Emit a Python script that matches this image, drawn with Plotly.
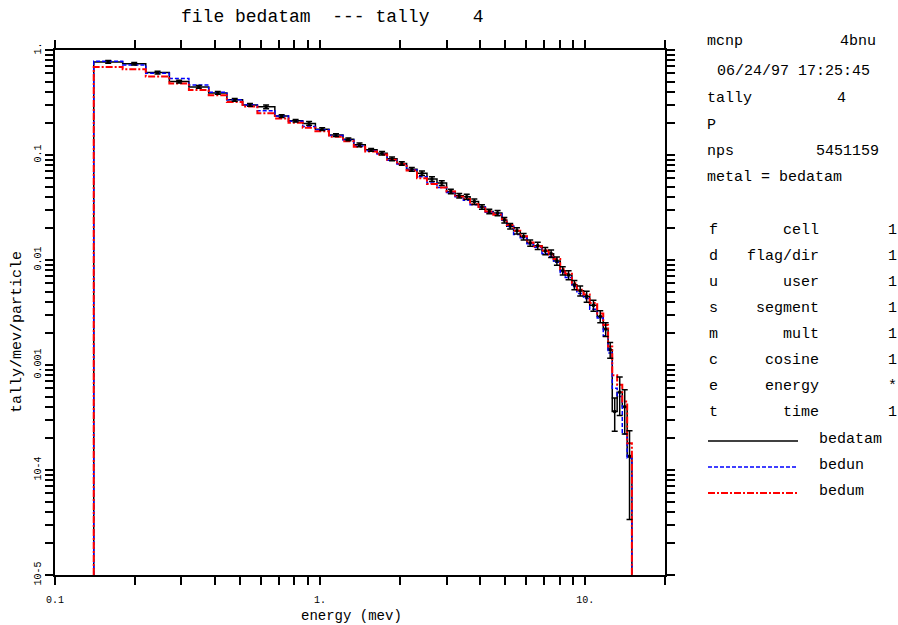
import numpy as np
import plotly.graph_objects as go

# ---------------- data ----------------
edges = [0.14, 0.18, 0.22, 0.27, 0.32, 0.38, 0.445, 0.51, 0.58, 0.675,
         0.76, 0.86, 0.96, 1.08, 1.22, 1.34, 1.48, 1.64, 1.79, 1.95,
         2.12, 2.32, 2.53, 2.76, 3.0, 3.23, 3.47, 3.68, 3.96, 4.2,
         4.5, 4.85, 5.06, 5.37, 5.69, 6.03, 6.38, 6.87, 7.28, 7.6,
         8.05, 8.41, 8.91, 9.3, 9.86, 10.4, 11.1, 11.7, 12.2, 12.65,
         13.2, 13.8, 14.4, 15.0]

bedatam = [0.77, 0.74, 0.61, 0.50, 0.445, 0.39, 0.335, 0.30, 0.288, 0.235,
           0.212, 0.20, 0.176, 0.155, 0.141, 0.125, 0.112, 0.104, 0.092, 0.083,
           0.073, 0.067, 0.059, 0.054, 0.045, 0.041, 0.040, 0.036, 0.032, 0.029,
           0.028, 0.024, 0.021, 0.019, 0.0167, 0.0145, 0.0137, 0.0122, 0.0115, 0.0098,
           0.0079, 0.0072, 0.0058, 0.0051, 0.0045, 0.0037, 0.0029, 0.0022, 0.0014,
           0.00036, 0.00055, 0.0004, 0.000135]

bedun = [0.78, 0.72, 0.60, 0.535, 0.465, 0.395, 0.335, 0.30, 0.264, 0.235,
         0.21, 0.187, 0.174, 0.153, 0.139, 0.122, 0.11, 0.102, 0.089, 0.082,
         0.072, 0.062, 0.054, 0.049, 0.044, 0.040, 0.037, 0.0335, 0.032, 0.0285,
         0.0275, 0.024, 0.021, 0.0175, 0.0163, 0.0143, 0.0132, 0.0115, 0.0108, 0.0095,
         0.0076, 0.0068, 0.0056, 0.0048, 0.0043, 0.0034, 0.0028, 0.0019, 0.0013,
         0.0006, 0.0005, 0.00022, 0.00013]

bedum = [0.69, 0.655, 0.56, 0.48, 0.415, 0.37, 0.32, 0.29, 0.25, 0.223,
         0.203, 0.182, 0.168, 0.149, 0.135, 0.12, 0.108, 0.101, 0.09, 0.082,
         0.071, 0.06, 0.053, 0.049, 0.045, 0.040, 0.038, 0.034, 0.032, 0.029,
         0.027, 0.0245, 0.0215, 0.019, 0.0168, 0.0147, 0.0135, 0.0123, 0.0113, 0.0102,
         0.0082, 0.0074, 0.006, 0.0052, 0.0047, 0.0039, 0.0031, 0.0024, 0.0015,
         0.0008, 0.00065, 0.00045, 0.00018]

bedatam_relerr = [0.03, 0.03, 0.03, 0.03, 0.03, 0.03, 0.03, 0.03, 0.04, 0.03,
                  0.03, 0.04, 0.03, 0.03, 0.03, 0.04, 0.03, 0.04, 0.04, 0.04,
                  0.04, 0.05, 0.05, 0.05, 0.05, 0.05, 0.06, 0.06, 0.05, 0.05,
                  0.06, 0.06, 0.06, 0.07, 0.07, 0.07, 0.08, 0.08, 0.08, 0.09,
                  0.09, 0.10, 0.10, 0.11, 0.12, 0.12, 0.13, 0.15, 0.17,
                  0.35, 0.40, 0.45, 0.75]

y_floor = 1e-5
x_tick_labels = {0.1: "0.1", 1: "1.", 10: "10."}
y_tick_labels = {1e-5: "10-5", 1e-4: "10-4", 1e-3: "0.001", 1e-2: "0.01", 1e-1: "0.1", 1: "1."}

title_text = "file bedatam  --- tally    4"
info_lines = [("mcnp", "4bnu"), ("06/24/97 17:25:45", None), ("tally", "4"),
              ("P", None), ("nps", "5451159"), ("metal = bedatam", None)]
param_rows = [("f", "cell", "1"), ("d", "flag/dir", "1"), ("u", "user", "1"),
              ("s", "segment", "1"), ("m", "mult", "1"), ("c", "cosine", "1"),
              ("e", "energy", "*"), ("t", "time", "1")]
series_names = ["bedatam", "bedun", "bedum"]

# ---------------- helpers ----------------
def step_xy(vals):
    xs = [edges[0]] + list(edges) + [edges[-1]]
    ys = [y_floor] + list(vals) + [vals[-1], y_floor]
    return xs, ys

FONT = "Liberation Mono"
L, R, T, B = 55, 233, 50, 50
W, H = 898, 625
pw, ph = W - L - R, H - T - B

def px(x):
    return (x - L) / pw

def py(y):
    return (H - B - y) / ph

styles = [dict(color="black", width=1.5, dash="solid"),
          dict(color="#0000ff", width=1.5, dash="4px,2px"),
          dict(color="#ff0000", width=2, dash="7px,2px,2px,2px")]

fig = go.Figure()
for name, vals, st in zip(series_names, [bedatam, bedun, bedum], styles):
    xs, ys = step_xy(vals)
    fig.add_trace(go.Scatter(x=xs, y=ys, mode="lines", line_shape="hv",
                             line=st, name=name, showlegend=False))

centers = [np.sqrt(a * b) for a, b in zip(edges[:-1], edges[1:])]
errs = [v * e for v, e in zip(bedatam, bedatam_relerr)]
fig.add_trace(go.Scatter(x=centers, y=bedatam, mode="markers",
                         marker=dict(color="black", size=3, symbol="square"),
                         error_y=dict(type="data", array=errs, color="black",
                                      thickness=1.5, width=3),
                         showlegend=False))

# ticks
xtv, xtt = [], []
for d in [0.1, 1, 10]:
    for m in range(1, 10):
        v = d * m
        if v > 20:
            break
        xtv.append(v)
        xtt.append(x_tick_labels.get(d, "") if m == 1 else "")
xtv.append(20); xtt.append("")
ytv, ytt = [], []
for d in [1e-5, 1e-4, 1e-3, 1e-2, 1e-1]:
    for m in range(1, 10):
        ytv.append(d * m)
        ytt.append(y_tick_labels[d] if m == 1 else "")
ytv.append(1); ytt.append(y_tick_labels[1])

axis_common = dict(showline=True, linecolor="black", linewidth=2, mirror="allticks",
                   ticks="outside", ticklen=8, tickwidth=2, tickcolor="black",
                   showgrid=False, zeroline=False)
fig.update_xaxes(type="log", range=[-1, np.log10(20)], tickvals=xtv, ticktext=xtt,
                 ticklabelstandoff=6,
                 tickfont=dict(family=FONT, size=10, color="black"), **axis_common)
fig.update_yaxes(type="log", range=[-5, 0], tickvals=ytv, ticktext=ytt, tickangle=-90,
                 tickfont=dict(family=FONT, size=10, color="black"), **axis_common)

ann = []
def text(x, y, s, size=15, anchor="left", angle=0):
    ann.append(dict(x=px(x), y=py(y), xref="paper", yref="paper", text=s,
                    showarrow=False, xanchor=anchor, yanchor="middle", textangle=angle,
                    font=dict(family=FONT, size=size, color="black")))

text(332, 17, title_text, size=18, anchor="center")
text(351, 616, "energy (mev)", size=14, anchor="center")
text(17, 332, "tally/mev/particle", size=15, anchor="center", angle=-90)

info_y = [42, 71, 98, 125, 151, 177]
for (a, b), yy in zip(info_lines, info_y):
    if a.startswith("06"):
        text(715, yy, a)
    else:
        text(705, yy, a)
    if b is not None:
        if a == "mcnp":
            text(878, yy, b, anchor="right")
        elif a == "tally":
            text(835, yy, b)
        else:
            text(881, yy, b, anchor="right")

row_y = [230, 256, 282, 308, 334, 360, 386, 412]
for (l, w, v), yy in zip(param_rows, row_y):
    text(707, yy, l)
    text(821, yy, w, anchor="right")
    text(886, yy, v)

leg_y = [441, 467, 493]
shapes = []
for name, st, yy in zip(series_names, styles, leg_y):
    shapes.append(dict(type="line", xref="paper", yref="paper", x0=px(708), x1=px(798),
                       y0=py(yy), y1=py(yy), line=st))
    text(817, yy - 2, name)

fig.update_layout(width=W, height=H, margin=dict(l=L, r=R, t=T, b=B),
                  plot_bgcolor="white", paper_bgcolor="white",
                  annotations=ann, shapes=shapes, showlegend=False)
fig.write_html("out.html")
